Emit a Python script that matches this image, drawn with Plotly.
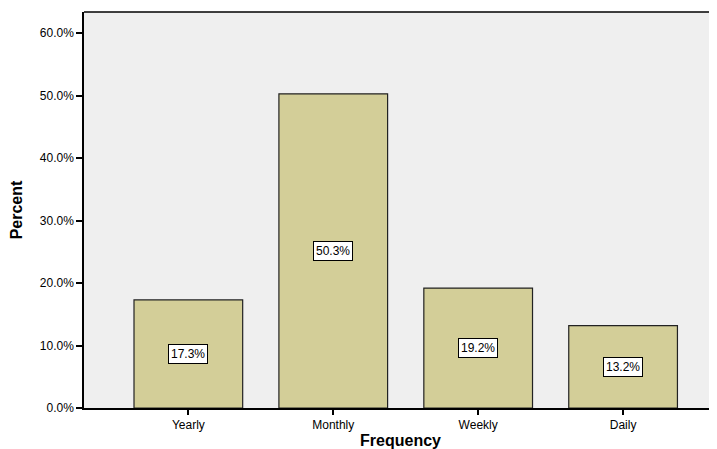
import plotly.graph_objects as go

categories = ["Yearly", "Monthly", "Weekly", "Daily"]
percents = [17.3, 50.3, 19.2, 13.2]
tick_vals = [0, 10, 20, 30, 40, 50, 60]
tick_text = ["0.0%", "10.0%", "20.0%", "30.0%", "40.0%", "50.0%", "60.0%"]

font_family = "Liberation Sans, Arial, sans-serif"

fig = go.Figure()
fig.add_trace(go.Bar(
    x=list(range(len(categories))),
    y=percents,
    marker=dict(color="#D3CE98", line=dict(color="#222222", width=1.2)),
    width=0.75,
    hoverinfo="skip",
))

for i, v in enumerate(percents):
    fig.add_annotation(
        x=i, y=v / 2, xref="x", yref="y",
        text=f"{v:.1f}%", showarrow=False,
        font=dict(family=font_family, size=12, color="black"),
        bgcolor="white", bordercolor="black", borderwidth=1, borderpad=2,
    )

fig.update_layout(
    width=709, height=441,
    margin=dict(l=76, r=0, t=4, b=41),
    paper_bgcolor="white",
    plot_bgcolor="#EFEFEF",
    showlegend=False,
    font=dict(family=font_family, size=12, color="black"),
    xaxis=dict(
        range=[-0.72, 3.648],
        tickmode="array",
        tickvals=list(range(len(categories))),
        ticktext=categories,
        ticks="outside", ticklen=5, tickwidth=1.5, tickcolor="black",
        showline=True, linecolor="black", linewidth=1.5,
        showgrid=False, zeroline=False,
        tickfont=dict(size=12),
        title=dict(text="<b>Frequency</b>", font=dict(size=16), standoff=4),
        automargin=False,
    ),
    yaxis=dict(
        range=[0, 63.4],
        tickmode="array",
        tickvals=tick_vals,
        ticktext=tick_text,
        ticks="outside", ticklen=6, tickwidth=1.5, tickcolor="black",
        showline=True, linecolor="black", linewidth=1.5,
        showgrid=False, zeroline=False,
        tickfont=dict(size=12),
        title=dict(text="<b>Percent</b>", font=dict(size=16), standoff=14),
        automargin=False,
    ),
)

fig.add_shape(type="line", xref="paper", yref="paper", x0=0, x1=1, y0=1, y1=1,
              line=dict(color="black", width=1.5))

fig.write_html("out.html")
